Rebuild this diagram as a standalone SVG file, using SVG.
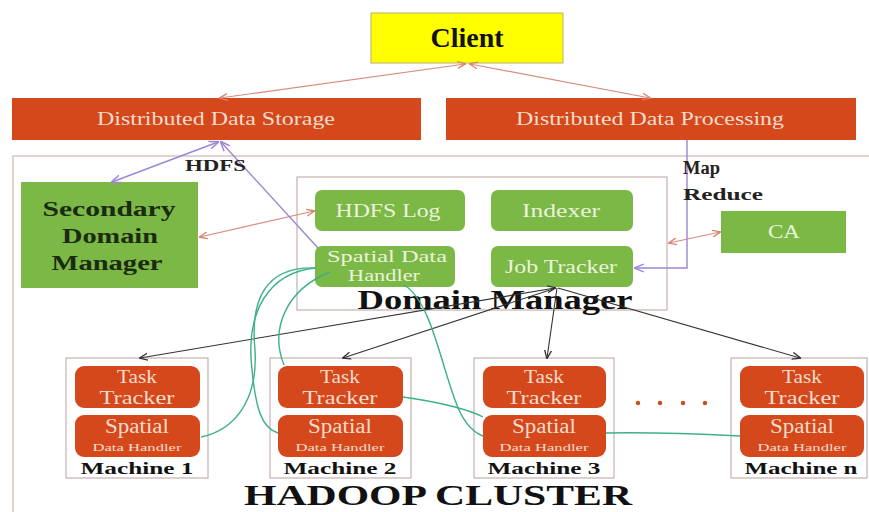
<svg xmlns="http://www.w3.org/2000/svg" width="869" height="512" viewBox="0 0 869 512">
<defs>
<style>
.org{fill:#D4481C}
.grn{fill:#7CB845}
.frame{fill:none;stroke:#D9C2BC;stroke-width:1.5}
.wt{fill:#F6DCCB;font-family:"Liberation Serif","DejaVu Serif",serif;text-anchor:middle}
.gt{fill:#EAF3DC;font-family:"Liberation Serif","DejaVu Serif",serif;text-anchor:middle}
.bk{fill:#111;font-family:"Liberation Serif","DejaVu Serif",serif;font-weight:bold;text-anchor:middle}
.dg{fill:#1B2A12}
.lbl{fill:#222;font-family:"Liberation Serif","DejaVu Serif",serif;font-weight:bold}
.red{fill:none;stroke:#D98A7A;stroke-width:1.2}
.pur{fill:none;stroke:#9C86D6;stroke-width:1.4}
.dk{fill:none;stroke:#333;stroke-width:1.1}
.tl{fill:none;stroke:#3DB08A;stroke-width:1.4}
</style>
<marker id="ar" viewBox="0 0 10 10" refX="9" refY="5" markerWidth="7" markerHeight="7" orient="auto-start-reverse"><path d="M0,1 L10,5 L0,9" fill="none" stroke="#D9806E" stroke-width="1.5"/></marker>
<marker id="ap" viewBox="0 0 10 10" refX="9" refY="5" markerWidth="7" markerHeight="7" orient="auto-start-reverse"><path d="M0,1 L10,5 L0,9" fill="none" stroke="#9C86D6" stroke-width="1.5"/></marker>
<marker id="ad" viewBox="0 0 10 10" refX="9" refY="5" markerWidth="8" markerHeight="8" orient="auto-start-reverse"><path d="M0,1 L10,5 L0,9" fill="none" stroke="#333" stroke-width="1.5"/></marker>
</defs>
<rect width="869" height="512" fill="#fff"/>

<g id="cluster">
<path d="M13,512 L13,156 L869,156" class="frame"/>
<text x="438" y="505" class="bk" font-size="30" textLength="388" lengthAdjust="spacingAndGlyphs">HADOOP CLUSTER</text>
</g>

<g id="client">
<rect x="371" y="13" width="192" height="50" fill="#FFFF00" stroke="#B8B070" stroke-width="1"/>
<text x="467" y="47" class="bk" font-size="28">Client</text>
</g>

<g id="dds">
<rect x="12" y="98" width="409" height="42" class="org"/>
<text x="216" y="125" class="wt" font-size="18" textLength="238" lengthAdjust="spacingAndGlyphs">Distributed Data Storage</text>
</g>

<g id="ddp">
<rect x="446" y="98" width="410" height="42" class="org"/>
<text x="650" y="125" class="wt" font-size="18" textLength="268" lengthAdjust="spacingAndGlyphs">Distributed Data Processing</text>
</g>

<g id="sdm">
<rect x="21" y="182" width="177" height="106" class="grn"/>
<text x="109" y="216" class="bk dg" font-size="21" textLength="133" lengthAdjust="spacingAndGlyphs">Secondary</text>
<text x="110" y="243" class="bk dg" font-size="21" textLength="96" lengthAdjust="spacingAndGlyphs">Domain</text>
<text x="107" y="270" class="bk dg" font-size="21" textLength="111" lengthAdjust="spacingAndGlyphs">Manager</text>
</g>

<g id="domain-manager">
<rect x="297" y="177" width="370" height="133" fill="#fff" stroke="#C9B0B0" stroke-width="1.2"/>
<text x="495" y="309" class="bk" font-size="27" textLength="275" lengthAdjust="spacingAndGlyphs">Domain Manager</text>
</g>

<g id="hdfs-log">
<rect x="315" y="190" width="150" height="41" rx="7" class="grn"/>
<text x="388" y="217" class="gt" font-size="18" textLength="105" lengthAdjust="spacingAndGlyphs">HDFS  Log</text>
</g>

<g id="indexer">
<rect x="491" y="190" width="142" height="41" rx="7" class="grn"/>
<text x="561" y="217" class="gt" font-size="18" textLength="78" lengthAdjust="spacingAndGlyphs">Indexer</text>
</g>

<g id="spatial-data-handler">
<rect x="315" y="246" width="140" height="41" rx="7" class="grn"/>
<text x="387" y="262" class="gt" font-size="17" textLength="120" lengthAdjust="spacingAndGlyphs">Spatial Data</text>
<text x="384" y="281" class="gt" font-size="16" textLength="72" lengthAdjust="spacingAndGlyphs">Handler</text>
</g>

<g id="job-tracker">
<rect x="491" y="246" width="142" height="41" rx="7" class="grn"/>
<text x="561" y="273" class="gt" font-size="18" textLength="112" lengthAdjust="spacingAndGlyphs">Job Tracker</text>
</g>

<g id="ca">
<rect x="721" y="211" width="125" height="42" class="grn"/>
<text x="784" y="238" class="gt" font-size="19" textLength="32" lengthAdjust="spacingAndGlyphs">CA</text>
</g>

<g id="machine-1">
<rect x="66" y="358" width="142" height="120" fill="#fff" stroke="#C9B0B0" stroke-width="1.2"/>
<rect x="75" y="366" width="125" height="42" rx="9" class="org"/>
<rect x="75" y="415" width="125" height="42" rx="9" class="org"/>
<text x="137" y="383" class="wt" font-size="19" textLength="40" lengthAdjust="spacingAndGlyphs">Task</text>
<text x="137" y="404" class="wt" font-size="19" textLength="75" lengthAdjust="spacingAndGlyphs">Tracker</text>
<text x="137" y="433" class="wt" font-size="20" textLength="64" lengthAdjust="spacingAndGlyphs">Spatial</text>
<text x="137" y="451" class="wt" font-size="11" textLength="89" lengthAdjust="spacingAndGlyphs">Data Handler</text>
<text x="137" y="474" class="bk" font-size="16" textLength="113" lengthAdjust="spacingAndGlyphs">Machine 1</text>
</g>

<g id="machine-2">
<rect x="270" y="358" width="141" height="120" fill="#fff" stroke="#C9B0B0" stroke-width="1.2"/>
<rect x="278" y="366" width="125" height="42" rx="9" class="org"/>
<rect x="278" y="415" width="125" height="42" rx="9" class="org"/>
<text x="340" y="383" class="wt" font-size="19" textLength="40" lengthAdjust="spacingAndGlyphs">Task</text>
<text x="340" y="404" class="wt" font-size="19" textLength="75" lengthAdjust="spacingAndGlyphs">Tracker</text>
<text x="340" y="433" class="wt" font-size="20" textLength="64" lengthAdjust="spacingAndGlyphs">Spatial</text>
<text x="340" y="451" class="wt" font-size="11" textLength="89" lengthAdjust="spacingAndGlyphs">Data Handler</text>
<text x="340" y="474" class="bk" font-size="16" textLength="113" lengthAdjust="spacingAndGlyphs">Machine 2</text>
</g>

<g id="machine-3">
<rect x="474" y="358" width="140" height="120" fill="#fff" stroke="#C9B0B0" stroke-width="1.2"/>
<rect x="483" y="366" width="123" height="42" rx="9" class="org"/>
<rect x="483" y="415" width="123" height="42" rx="9" class="org"/>
<text x="544" y="383" class="wt" font-size="19" textLength="40" lengthAdjust="spacingAndGlyphs">Task</text>
<text x="544" y="404" class="wt" font-size="19" textLength="75" lengthAdjust="spacingAndGlyphs">Tracker</text>
<text x="544" y="433" class="wt" font-size="20" textLength="64" lengthAdjust="spacingAndGlyphs">Spatial</text>
<text x="544" y="451" class="wt" font-size="11" textLength="89" lengthAdjust="spacingAndGlyphs">Data Handler</text>
<text x="544" y="474" class="bk" font-size="16" textLength="113" lengthAdjust="spacingAndGlyphs">Machine 3</text>
</g>

<g id="dots">
<circle cx="638" cy="403" r="2.2" fill="#D4481C"/>
<circle cx="660" cy="403" r="2.2" fill="#D4481C"/>
<circle cx="683" cy="403" r="2.2" fill="#D4481C"/>
<circle cx="705" cy="403" r="2.2" fill="#D4481C"/>
</g>

<g id="machine-n">
<rect x="731" y="358" width="136" height="120" fill="#fff" stroke="#C9B0B0" stroke-width="1.2"/>
<rect x="740" y="366" width="124" height="42" rx="9" class="org"/>
<rect x="740" y="415" width="124" height="42" rx="9" class="org"/>
<text x="802" y="383" class="wt" font-size="19" textLength="40" lengthAdjust="spacingAndGlyphs">Task</text>
<text x="802" y="404" class="wt" font-size="19" textLength="75" lengthAdjust="spacingAndGlyphs">Tracker</text>
<text x="802" y="433" class="wt" font-size="20" textLength="64" lengthAdjust="spacingAndGlyphs">Spatial</text>
<text x="802" y="451" class="wt" font-size="11" textLength="89" lengthAdjust="spacingAndGlyphs">Data Handler</text>
<text x="801" y="474" class="bk" font-size="16" textLength="113" lengthAdjust="spacingAndGlyphs">Machine n</text>
</g>

<g id="connectors">
<line x1="465" y1="64" x2="220" y2="98" class="red" marker-start="url(#ar)" marker-end="url(#ar)"/>
<line x1="470" y1="64" x2="650" y2="98" class="red" marker-start="url(#ar)" marker-end="url(#ar)"/>
<line x1="200" y1="237" x2="314" y2="211" class="red" marker-start="url(#ar)" marker-end="url(#ar)"/>
<line x1="669" y1="243" x2="720" y2="232" class="red" marker-start="url(#ar)" marker-end="url(#ar)"/>

<line x1="218" y1="142" x2="112" y2="182" class="pur" marker-start="url(#ap)" marker-end="url(#ap)"/>
<line x1="318" y1="248" x2="221" y2="142" class="pur" marker-end="url(#ap)"/>
<path d="M687,140 L687,268 L635,268" class="pur" marker-end="url(#ap)"/>

<line x1="555" y1="288" x2="140" y2="358" class="dk" marker-start="url(#ad)" marker-end="url(#ad)"/>
<line x1="556" y1="288" x2="343" y2="358" class="dk" marker-end="url(#ad)"/>
<line x1="557" y1="288" x2="547" y2="358" class="dk" marker-end="url(#ad)"/>
<line x1="558" y1="288" x2="800" y2="358" class="dk" marker-end="url(#ad)"/>

<path d="M316,268 C265,266 250,300 255,350 C258,400 235,430 201,437" class="tl"/>
<path d="M316,268 C270,272 245,310 252,370 C256,410 262,428 278,433" class="tl"/>
<path d="M330,272 C285,290 270,330 284,365" class="tl"/>
<path d="M404,285 C430,300 440,360 455,400 C462,420 472,432 483,436" class="tl"/>
<path d="M403,397 C440,402 470,410 483,417" class="tl"/>
<path d="M606,433 C650,432 700,434 740,436" class="tl"/>

<text x="185" y="171" class="lbl" font-size="16" textLength="61" lengthAdjust="spacingAndGlyphs">HDFS</text>
<text x="683" y="174" class="lbl" font-size="18" textLength="37" lengthAdjust="spacingAndGlyphs">Map</text>
<text x="683" y="200" class="lbl" font-size="17" textLength="80" lengthAdjust="spacingAndGlyphs">Reduce</text>
</g>
</svg>
